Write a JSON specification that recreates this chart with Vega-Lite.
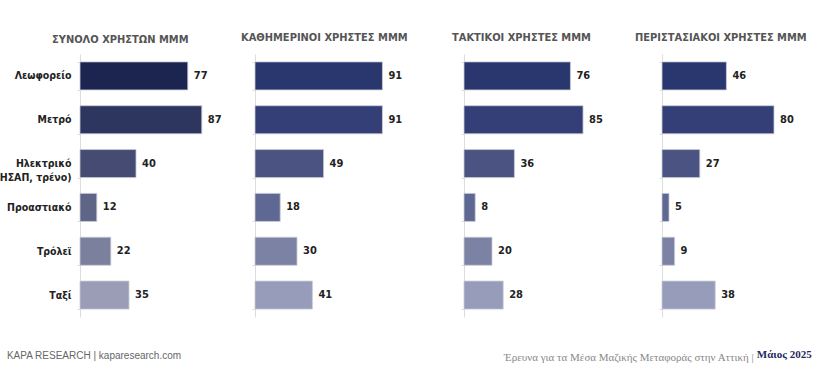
{
  "$schema": "https://vega.github.io/schema/vega-lite/v6.json",
  "background": "white",
  "padding": {"top": 32, "left": -6, "right": 8, "bottom": 4},
  "data": {"values": [
    {"panel": "p1", "category": "Λεωφορείο", "value": 77},
    {"panel": "p1", "category": "Μετρό", "value": 87},
    {"panel": "p1", "category": "Ηλεκτρικό (ΗΣΑΠ, τρένο)", "value": 40},
    {"panel": "p1", "category": "Προαστιακό", "value": 12},
    {"panel": "p1", "category": "Τρόλεϊ", "value": 22},
    {"panel": "p1", "category": "Ταξί", "value": 35},
    {"panel": "p2", "category": "Λεωφορείο", "value": 91},
    {"panel": "p2", "category": "Μετρό", "value": 91},
    {"panel": "p2", "category": "Ηλεκτρικό (ΗΣΑΠ, τρένο)", "value": 49},
    {"panel": "p2", "category": "Προαστιακό", "value": 18},
    {"panel": "p2", "category": "Τρόλεϊ", "value": 30},
    {"panel": "p2", "category": "Ταξί", "value": 41},
    {"panel": "p3", "category": "Λεωφορείο", "value": 76},
    {"panel": "p3", "category": "Μετρό", "value": 85},
    {"panel": "p3", "category": "Ηλεκτρικό (ΗΣΑΠ, τρένο)", "value": 36},
    {"panel": "p3", "category": "Προαστιακό", "value": 8},
    {"panel": "p3", "category": "Τρόλεϊ", "value": 20},
    {"panel": "p3", "category": "Ταξί", "value": 28},
    {"panel": "p4", "category": "Λεωφορείο", "value": 46},
    {"panel": "p4", "category": "Μετρό", "value": 80},
    {"panel": "p4", "category": "Ηλεκτρικό (ΗΣΑΠ, τρένο)", "value": 27},
    {"panel": "p4", "category": "Προαστιακό", "value": 5},
    {"panel": "p4", "category": "Τρόλεϊ", "value": 9},
    {"panel": "p4", "category": "Ταξί", "value": 38}
  ]},
  "title": {
    "text": "Μάιος 2025",
    "orient": "bottom",
    "anchor": "end",
    "offset": -14,
    "dx": 5,
    "font": "Liberation Serif",
    "fontSize": 11,
    "fontWeight": "bold",
    "color": "#1f2a5c"
  },
  "vconcat": [
    {
      "title": {
        "text": "Έρευνα για τα Μέσα Μαζικής Μεταφοράς στην Αττική  |",
        "orient": "bottom",
        "anchor": "end",
        "dx": -53,
        "offset": -9,
        "font": "Liberation Serif",
        "fontSize": 11,
        "fontWeight": "normal",
        "color": "#888888"
      },
      "vconcat": [
        {
          "title": {
            "text": "KAPA RESEARCH  |  kaparesearch.com",
            "orient": "bottom",
            "anchor": "start",
            "frame": "bounds",
            "offset": 34,
            "dx": 12,
            "font": "Liberation Sans",
            "fontSize": 10,
            "fontWeight": "normal",
            "color": "#666666"
          },
          "spacing": 0,
          "hconcat": [
            {
              "width": 161,
              "height": 263,
              "title": {"text": "ΣΥΝΟΛΟ ΧΡΗΣΤΩΝ ΜΜΜ", "anchor": "start", "frame": "group", "dx": -28, "offset": 4},
              "transform": [{"filter": "datum.panel === 'p1'"}],
              "encoding": {
                "y": {
                  "field": "category", "type": "nominal",
                  "sort": ["Λεωφορείο", "Μετρό", "Ηλεκτρικό (ΗΣΑΠ, τρένο)", "Προαστιακό", "Τρόλεϊ", "Ταξί"],
                  "scale": {"paddingInner": 0.36, "paddingOuter": 0.18},
                  "axis": {
                    "title": null,
                    "labelExpr": "datum.value === 'Ηλεκτρικό (ΗΣΑΠ, τρένο)' ? ['Ηλεκτρικό', '(ΗΣΑΠ, τρένο)'] : datum.label",
                    "labelFontSize": 10.5,
                    "labelFontWeight": "bold",
                    "labelColor": "#222222",
                    "labelPadding": 6,
                    "labelLimit": 200,
                    "labelLineHeight": 14
                  }
                },
                "x": {"field": "value", "type": "quantitative", "scale": {"domain": [0, 115]}, "axis": null}
              },
              "layer": [
                {
                  "mark": {"type": "bar", "stroke": "#c9cbd6", "strokeWidth": 0.8},
                  "encoding": {
                    "color": {
                      "field": "category", "type": "nominal", "legend": null,
                      "scale": {
                        "domain": ["Λεωφορείο", "Μετρό", "Ηλεκτρικό (ΗΣΑΠ, τρένο)", "Προαστιακό", "Τρόλεϊ", "Ταξί"],
                        "range": ["#1c2450", "#2c365f", "#454b72", "#5f6587", "#7b809c", "#9a9db5"]
                      }
                    }
                  }
                },
                {
                  "mark": {"type": "text", "align": "left", "dx": 6, "fontSize": 11, "fontWeight": "bold", "color": "#222222"},
                  "encoding": {"text": {"field": "value", "type": "quantitative"}}
                }
              ]
            },
            {
              "width": 197,
              "height": 263,
              "title": {"text": "ΚΑΘΗΜΕΡΙΝΟΙ  ΧΡΗΣΤΕΣ ΜΜΜ", "anchor": "start", "frame": "group", "dx": -14},
              "transform": [{"filter": "datum.panel === 'p2'"}],
              "encoding": {
                "y": {
                  "field": "category", "type": "nominal",
                  "sort": ["Λεωφορείο", "Μετρό", "Ηλεκτρικό (ΗΣΑΠ, τρένο)", "Προαστιακό", "Τρόλεϊ", "Ταξί"],
                  "scale": {"paddingInner": 0.36, "paddingOuter": 0.18},
                  "axis": {"title": null, "labels": false}
                },
                "x": {"field": "value", "type": "quantitative", "scale": {"domain": [0, 140.7]}, "axis": null}
              },
              "layer": [
                {
                  "mark": {"type": "bar", "stroke": "#c9cbd6", "strokeWidth": 0.8},
                  "encoding": {
                    "color": {
                      "field": "category", "type": "nominal", "legend": null,
                      "scale": {
                        "domain": ["Λεωφορείο", "Μετρό", "Ηλεκτρικό (ΗΣΑΠ, τρένο)", "Προαστιακό", "Τρόλεϊ", "Ταξί"],
                        "range": ["#2a366e", "#343f77", "#4a5382", "#5f6892", "#7b82a3", "#979cba"]
                      }
                    }
                  }
                },
                {
                  "mark": {"type": "text", "align": "left", "dx": 6, "fontSize": 11, "fontWeight": "bold", "color": "#222222"},
                  "encoding": {"text": {"field": "value", "type": "quantitative"}}
                }
              ]
            },
            {
              "width": 171,
              "height": 263,
              "title": {"text": "ΤΑΚΤΙΚΟΙ  ΧΡΗΣΤΕΣ ΜΜΜ", "anchor": "start", "frame": "group", "dx": -12},
              "transform": [{"filter": "datum.panel === 'p3'"}],
              "encoding": {
                "y": {
                  "field": "category", "type": "nominal",
                  "sort": ["Λεωφορείο", "Μετρό", "Ηλεκτρικό (ΗΣΑΠ, τρένο)", "Προαστιακό", "Τρόλεϊ", "Ταξί"],
                  "scale": {"paddingInner": 0.36, "paddingOuter": 0.18},
                  "axis": {"title": null, "labels": false}
                },
                "x": {"field": "value", "type": "quantitative", "scale": {"domain": [0, 122.1]}, "axis": null}
              },
              "layer": [
                {
                  "mark": {"type": "bar", "stroke": "#c9cbd6", "strokeWidth": 0.8},
                  "encoding": {
                    "color": {
                      "field": "category", "type": "nominal", "legend": null,
                      "scale": {
                        "domain": ["Λεωφορείο", "Μετρό", "Ηλεκτρικό (ΗΣΑΠ, τρένο)", "Προαστιακό", "Τρόλεϊ", "Ταξί"],
                        "range": ["#2a366e", "#343f77", "#4a5382", "#5f6892", "#7b82a3", "#979cba"]
                      }
                    }
                  }
                },
                {
                  "mark": {"type": "text", "align": "left", "dx": 6, "fontSize": 11, "fontWeight": "bold", "color": "#222222"},
                  "encoding": {"text": {"field": "value", "type": "quantitative"}}
                }
              ]
            },
            {
              "width": 140,
              "height": 263,
              "title": {"text": "ΠΕΡΙΣΤΑΣΙΑΚΟΙ ΧΡΗΣΤΕΣ ΜΜΜ", "anchor": "start", "frame": "group", "dx": -27},
              "transform": [{"filter": "datum.panel === 'p4'"}],
              "encoding": {
                "y": {
                  "field": "category", "type": "nominal",
                  "sort": ["Λεωφορείο", "Μετρό", "Ηλεκτρικό (ΗΣΑΠ, τρένο)", "Προαστιακό", "Τρόλεϊ", "Ταξί"],
                  "scale": {"paddingInner": 0.36, "paddingOuter": 0.18},
                  "axis": {"title": null, "labels": false}
                },
                "x": {"field": "value", "type": "quantitative", "scale": {"domain": [0, 100]}, "axis": null}
              },
              "layer": [
                {
                  "mark": {"type": "bar", "stroke": "#c9cbd6", "strokeWidth": 0.8},
                  "encoding": {
                    "color": {
                      "field": "category", "type": "nominal", "legend": null,
                      "scale": {
                        "domain": ["Λεωφορείο", "Μετρό", "Ηλεκτρικό (ΗΣΑΠ, τρένο)", "Προαστιακό", "Τρόλεϊ", "Ταξί"],
                        "range": ["#2a366e", "#343f77", "#4a5382", "#5f6892", "#7b82a3", "#979cba"]
                      }
                    }
                  }
                },
                {
                  "mark": {"type": "text", "align": "left", "dx": 6, "fontSize": 11, "fontWeight": "bold", "color": "#222222"},
                  "encoding": {"text": {"field": "value", "type": "quantitative"}}
                }
              ]
            }
          ],
          "resolve": {"scale": {"color": "independent", "x": "independent", "y": "independent"}}
        }
      ]
    }
  ],
  "config": {
    "font": "DejaVu Sans Condensed, Liberation Sans, sans-serif",
    "view": {"stroke": null},
    "title": {
      "fontSize": 11,
      "fontWeight": "bold",
      "color": "#555555",
      "offset": 11,
      "font": "DejaVu Sans Condensed, Liberation Sans, sans-serif"
    },
    "axisY": {
      "domainColor": "#dddddd",
      "tickColor": "#dddddd",
      "tickSize": 3,
      "tickBand": "extent",
      "domainWidth": 1,
      "labelFont": "DejaVu Sans Condensed, Liberation Sans, sans-serif"
    },
    "text": {"font": "DejaVu Sans Condensed, Liberation Sans, sans-serif"}
  }
}
